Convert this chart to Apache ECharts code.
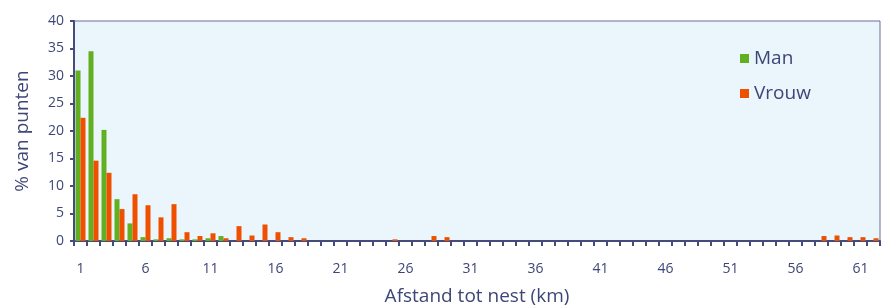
<!DOCTYPE html>
<html>
<head>
<meta charset="utf-8">
<script src="https://cdn.jsdelivr.net/npm/echarts@6/dist/echarts.min.js"></script>
<style>
    html, body { margin: 0; padding: 0; background: #ffffff; }
    #chart { width: 881px; height: 306px; }
</style>
</head>
<body>
<div id="chart"></div>
<script>
// afstand tot nest (km), 1..62
var categories = [
    '1', '2', '3', '4', '5', '6', '7', '8', '9', '10',
    '11', '12', '13', '14', '15', '16', '17', '18', '19', '20',
    '21', '22', '23', '24', '25', '26', '27', '28', '29', '30',
    '31', '32', '33', '34', '35', '36', '37', '38', '39', '40',
    '41', '42', '43', '44', '45', '46', '47', '48', '49', '50',
    '51', '52', '53', '54', '55', '56', '57', '58', '59', '60',
    '61', '62'
];

// % van punten - man
var manValues = [
    31.0, 34.5, 20.2, 7.6, 3.2, 0.7, 0.3, 0.5, 0.3, 0.3,
    0.5, 0.9, 0, 0, 0, 0, 0, 0, 0, 0,
    0, 0, 0, 0, 0, 0, 0, 0, 0, 0,
    0, 0, 0, 0, 0, 0, 0, 0, 0, 0,
    0, 0, 0, 0, 0, 0, 0, 0, 0, 0,
    0, 0, 0, 0, 0, 0, 0, 0, 0, 0,
    0, 0
];

// % van punten - vrouw
var vrouwValues = [
    22.4, 14.6, 12.4, 5.8, 8.5, 6.5, 4.3, 6.7, 1.6, 0.9,
    1.4, 0.5, 2.7, 1.0, 3.0, 1.6, 0.7, 0.5, 0, 0,
    0, 0, 0, 0, 0.3, 0, 0, 0.9, 0.7, 0,
    0, 0, 0, 0, 0, 0, 0, 0, 0, 0,
    0, 0, 0, 0, 0, 0, 0, 0, 0, 0,
    0, 0, 0, 0, 0, 0, 0, 0.9, 1.0, 0.7,
    0.7, 0.5
];

var yMin = 0;
var yMax = 40;
var yStep = 5;

var textColor = '#3e4677';
var axisColor = '#454b7c';
var fontName = 'Open Sans';

var myChart = echarts.init(document.getElementById('chart'), null, {renderer: 'canvas'});

var option = {
    animation: false,
    textStyle: {
        fontFamily: fontName,
        color: textColor
    },
    grid: {
        left: 74,
        right: 1,
        top: 21,
        bottom: 65,
        outerBoundsMode: 'none',
        containLabel: false,
        show: true,
        backgroundColor: '#eaf5fc',
        borderColor: '#6a6f98',
        borderWidth: 1
    },
    legend: {
        orient: 'vertical',
        left: 735,
        top: 44,
        itemWidth: 9,
        itemHeight: 9,
        itemGap: 16,
        icon: 'rect',
        textStyle: {
            fontFamily: fontName,
            fontSize: 19,
            color: textColor
        },
        data: ['Man', 'Vrouw']
    },
    xAxis: {
        type: 'category',
        data: categories,
        name: 'Afstand tot nest (km)',
        nameLocation: 'middle',
        nameGap: 46,
        nameTextStyle: {
            fontFamily: fontName,
            fontSize: 19,
            color: textColor
        },
        axisLine: {
            lineStyle: {color: axisColor, width: 2}
        },
        axisTick: {
            show: true,
            interval: 0,
            length: 5,
            lineStyle: {color: axisColor, width: 2}
        },
        axisLabel: {
            interval: 4,
            margin: 21,
            fontFamily: fontName,
            fontSize: 14,
            color: textColor
        },
        splitLine: {show: false}
    },
    yAxis: {
        type: 'value',
        min: yMin,
        max: yMax,
        interval: yStep,
        name: '% van punten',
        nameLocation: 'middle',
        nameGap: 42,
        nameTextStyle: {
            fontFamily: fontName,
            fontSize: 19,
            color: textColor
        },
        axisLine: {
            show: true,
            lineStyle: {color: axisColor, width: 2}
        },
        axisTick: {
            show: true,
            length: 4,
            lineStyle: {color: axisColor, width: 2}
        },
        axisLabel: {
            margin: 10,
            fontFamily: fontName,
            fontSize: 14,
            color: textColor
        },
        splitLine: {show: false}
    },
    series: [
        {
            name: 'Man',
            type: 'bar',
            data: manValues,
            barWidth: 5,
            barGap: '0%',
            itemStyle: {color: '#62b021'}
        },
        {
            name: 'Vrouw',
            type: 'bar',
            data: vrouwValues,
            barWidth: 5,
            itemStyle: {color: '#ee5000'}
        }
    ]
};

myChart.setOption(option);
</script>
</body>
</html>
